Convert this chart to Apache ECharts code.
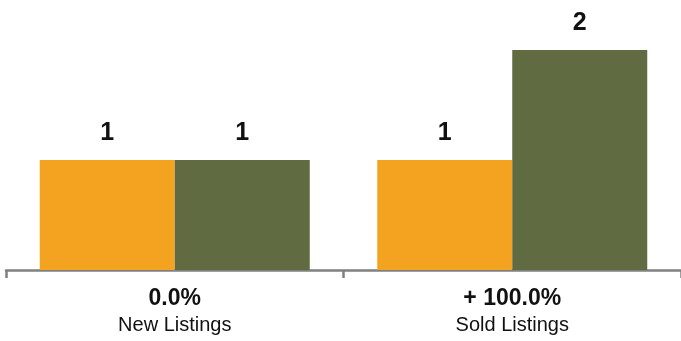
<!DOCTYPE html>
<html><head><meta charset="utf-8">
<script src="https://cdn.jsdelivr.net/npm/echarts@6/dist/echarts.min.js"></script>
<style>html,body{margin:0;padding:0;background:#fff}#c{width:681px;height:341px}</style>
</head><body><div id="c"></div>
<script>
const categories = ['New Listings', 'Sold Listings'];
const changeLabels = ['0.0%', '+ 100.0%'];
const seriesA = [1, 1];
const seriesB = [1, 2];

const chart = echarts.init(document.getElementById('c'));
const lbl = {
  show: true, position: 'top', distance: 14,
  fontFamily: 'Liberation Sans, Arial, sans-serif', fontWeight: 'bold', fontSize: 25, color: '#111'
};
chart.setOption({
  animation: false,
  grid: { left: 6, right: 0, top: 50, bottom: 71 },
  xAxis: {
    type: 'category', data: categories,
    axisLine: { lineStyle: { color: '#808080', width: 2.5 } },
    axisTick: { show: true, length: 8, lineStyle: { color: '#808080', width: 2.5 } },
    axisLabel: {
      margin: 15,
      formatter: function (v, i) { return '{b|' + changeLabels[i] + '}\n{n|' + v + '}'; },
      rich: {
        b: { fontFamily: 'Liberation Sans, Arial, sans-serif', fontWeight: 'bold', fontSize: 23, color: '#111', lineHeight: 27 },
        n: { fontFamily: 'Liberation Sans, Arial, sans-serif', fontSize: 20, color: '#111', lineHeight: 27 }
      }
    }
  },
  yAxis: { type: 'value', min: 0, max: 2, show: false, splitLine: { show: false } },
  series: [
    { type: 'bar', data: seriesA, itemStyle: { color: '#F4A321' }, barGap: '0%', barCategoryGap: '20%', label: lbl },
    { type: 'bar', data: seriesB, itemStyle: { color: '#616B41' }, barGap: '0%', barCategoryGap: '20%', label: lbl }
  ]
});
</script></body></html>
